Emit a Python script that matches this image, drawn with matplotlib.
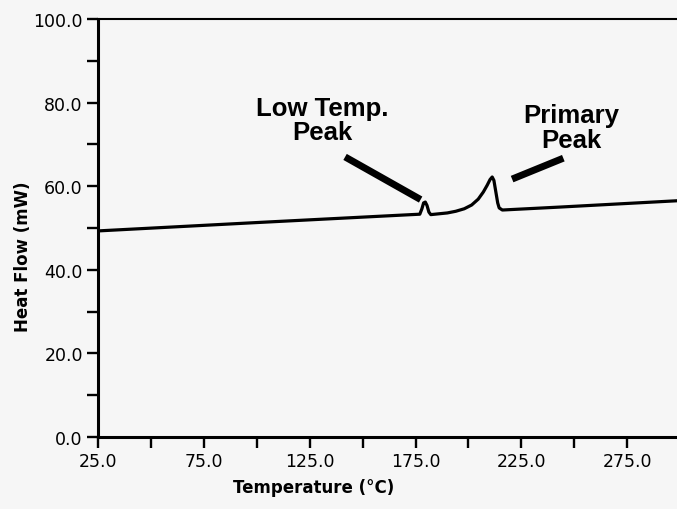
import numpy as np
import matplotlib.pyplot as plt
from matplotlib.ticker import MultipleLocator, FormatStrFormatter

# DSC trace: temperature (°C) vs heat flow (mW)
temp = [25.0, 100.0, 150.0, 177.0, 178.0, 178.8, 179.6, 180.4, 181.3, 182.2,
        190.0, 194.0, 198.0, 201.5, 204.6, 207.0, 208.8, 210.2, 211.2, 212.0,
        212.6, 213.2, 213.8, 214.5, 216.0, 243.0, 298.0]
heat_flow = [49.3, 51.3, 52.6, 53.3, 54.6, 56.0, 56.2, 55.4, 53.8, 53.2,
             53.6, 54.0, 54.6, 55.5, 56.9, 58.6, 60.2, 61.6, 62.2, 61.4,
             59.6, 57.8, 56.0, 54.8, 54.3, 55.0, 56.5]

# annotation labels, text anchor and pointer ends
peak_labels = ["Low Temp.\nPeak", "Primary\nPeak"]
label_pos = [(131.0, 75.8), (248.5, 74.0)]
pointer_start = [(141.7, 67.0), (220.6, 61.7)]
pointer_end = [(177.4, 56.8), (244.8, 66.7)]

bg = "#f6f6f6"
fig = plt.figure(figsize=(6.77, 5.10), dpi=100, facecolor=bg)
ax = fig.add_axes([0.1448, 0.1412, 0.8552, 0.8196], facecolor=bg)

ax.plot(temp, heat_flow, color="black", lw=2.3, solid_joinstyle="round")

for lab, (tx, ty), (x0, y0), (x1, y1) in zip(peak_labels, label_pos, pointer_start, pointer_end):
    ax.text(tx, ty, lab, ha="center", va="center", fontsize=18.5, fontweight="bold",
            family="Liberation Sans", linespacing=1.02)
    ax.plot([x0, x1], [y0, y1], color="black", lw=5, solid_capstyle="butt")

ax.set_xlim(25, 298.5)
ax.set_ylim(0, 100)

ax.xaxis.set_minor_locator(MultipleLocator(25))
ax.yaxis.set_major_locator(MultipleLocator(20))
ax.yaxis.set_minor_locator(MultipleLocator(10))
ax.xaxis.set_major_formatter(FormatStrFormatter("%.1f"))
ax.yaxis.set_major_formatter(FormatStrFormatter("%.1f"))
# labelled x ticks start at 25
ax.set_xticks(np.arange(25, 300, 50))

ax.tick_params(which="both", direction="out", length=8, width=1.7, color="black")
ax.tick_params(axis="both", which="major", labelsize=12.5, pad=3)

for side in ["left", "bottom"]:
    ax.spines[side].set_linewidth(2.2)
ax.spines["top"].set_linewidth(1.5)
ax.spines["right"].set_visible(False)

ax.set_xlabel("Temperature (°C)", fontsize=12, fontweight="bold")
ax.set_ylabel("Heat Flow (mW)", fontsize=12, fontweight="bold")
ax.xaxis.set_label_coords(0.372, -0.098)
ax.yaxis.set_label_coords(-0.114, 0.433)

fig.savefig("out.png", dpi=100, facecolor=bg)
